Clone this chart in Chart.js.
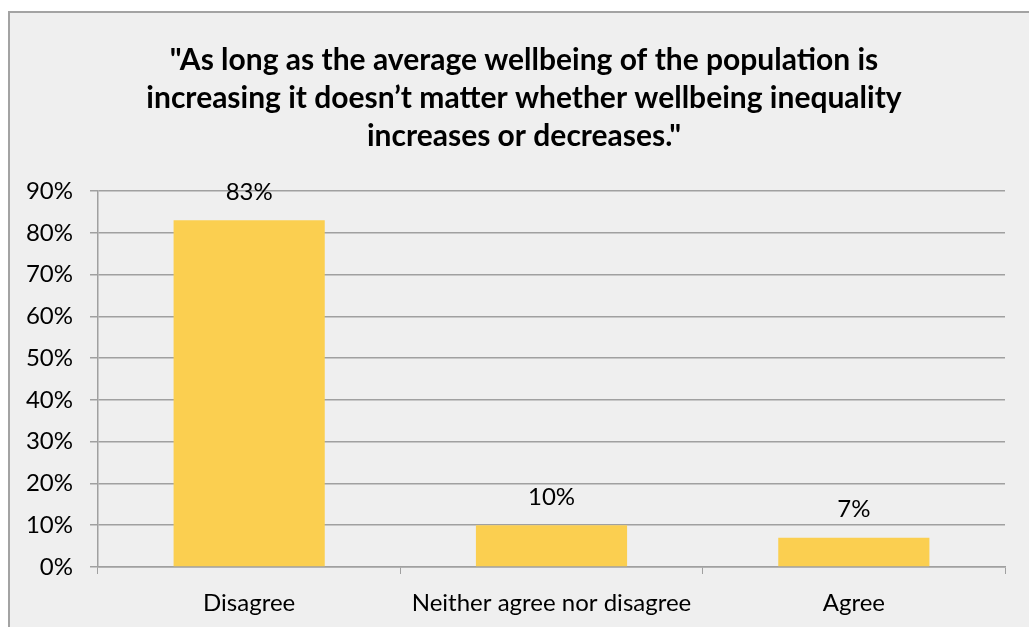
<!DOCTYPE html>
<html>
<head>
<meta charset="utf-8">
<script src="https://cdn.jsdelivr.net/npm/chart.js@4.4.1/dist/chart.umd.min.js"></script>
<style>
  html, body { margin: 0; padding: 0; background: #fff; }
  body { width: 1029px; height: 627px; position: relative; overflow: hidden; }
  #frame {
    position: absolute; left: 8px; top: 11px; width: 1100px; height: 700px;
    background: #efefef; border-top: 2px solid #a3a3a3; border-left: 2px solid #a3a3a3;
  }
  #wrap { position: absolute; left: 0; top: 0; width: 1029px; height: 627px; }
</style>
</head>
<body>
<div id="frame"></div>
<div id="wrap"><canvas id="surveyChart"></canvas></div>
<script>
// Survey responses, share of respondents (%)
const categories = ['Disagree', 'Neither agree nor disagree', 'Agree'];
const shares = [83, 10, 7];
const titleLines = [
  '"As long as the average wellbeing of the population is',
  'increasing it doesn\u2019t matter whether wellbeing inequality',
  'increases or decreases."'
];

const AXIS_GREY = '#a0a0a0';
const FONT = "Lato, 'Open Sans', sans-serif";

Chart.defaults.font.family = FONT;
Chart.defaults.color = '#000';

// Writes the percentage above each bar
const valueLabels = {
  id: 'valueLabels',
  afterDatasetsDraw(chart) {
    const ctx = chart.ctx;
    const meta = chart.getDatasetMeta(0);
    ctx.save();
    ctx.font = '24px ' + FONT;
    ctx.fillStyle = '#000';
    ctx.textAlign = 'center';
    ctx.textBaseline = 'middle';
    meta.data.forEach((bar, i) => {
      ctx.fillText(shares[i] + '%', bar.x, bar.y - 28);
    });
    ctx.restore();
  }
};

// Title centred on the whole frame rather than the plot box
const frameTitle = {
  id: 'frameTitle',
  afterDraw(chart) {
    const ctx = chart.ctx;
    ctx.save();
    ctx.font = 'bold 30px ' + FONT;
    ctx.fillStyle = '#000';
    ctx.textAlign = 'center';
    ctx.textBaseline = 'middle';
    titleLines.forEach((line, i) => {
      ctx.fillText(line, 524, 60 + i * 38);
    });
    ctx.restore();
  }
};

new Chart(document.getElementById('surveyChart'), {
  type: 'bar',
  data: {
    labels: categories,
    datasets: [{
      data: shares,
      backgroundColor: '#fbcf50',
      borderWidth: 0,
      barPercentage: 0.5,
      categoryPercentage: 1.0
    }]
  },
  options: {
    responsive: true,
    maintainAspectRatio: false,
    animation: false,
    layout: { padding: { left: 0, right: 24, top: 191, bottom: 0 } },
    plugins: {
      legend: { display: false },
      tooltip: { enabled: false },
      title: { display: false }
    },
    scales: {
      x: {
        afterFit: (scale) => { scale.height = 60; },
        grid: { offset: true, drawOnChartArea: false, drawTicks: true, tickLength: 7, color: AXIS_GREY },
        border: { color: AXIS_GREY, width: 1.5 },
        ticks: { font: { size: 24 }, padding: 15, color: '#000' }
      },
      y: {
        min: 0,
        max: 90,
        afterFit: (scale) => { scale.width = 98; },
        grid: { color: AXIS_GREY, tickLength: 8, lineWidth: 1.5 },
        border: { color: AXIS_GREY, width: 1.5 },
        ticks: {
          stepSize: 10,
          padding: 17,
          font: { size: 24 },
          color: '#000',
          callback: (v) => v + '%'
        }
      }
    }
  },
  plugins: [valueLabels, frameTitle]
});
</script>
</body>
</html>
